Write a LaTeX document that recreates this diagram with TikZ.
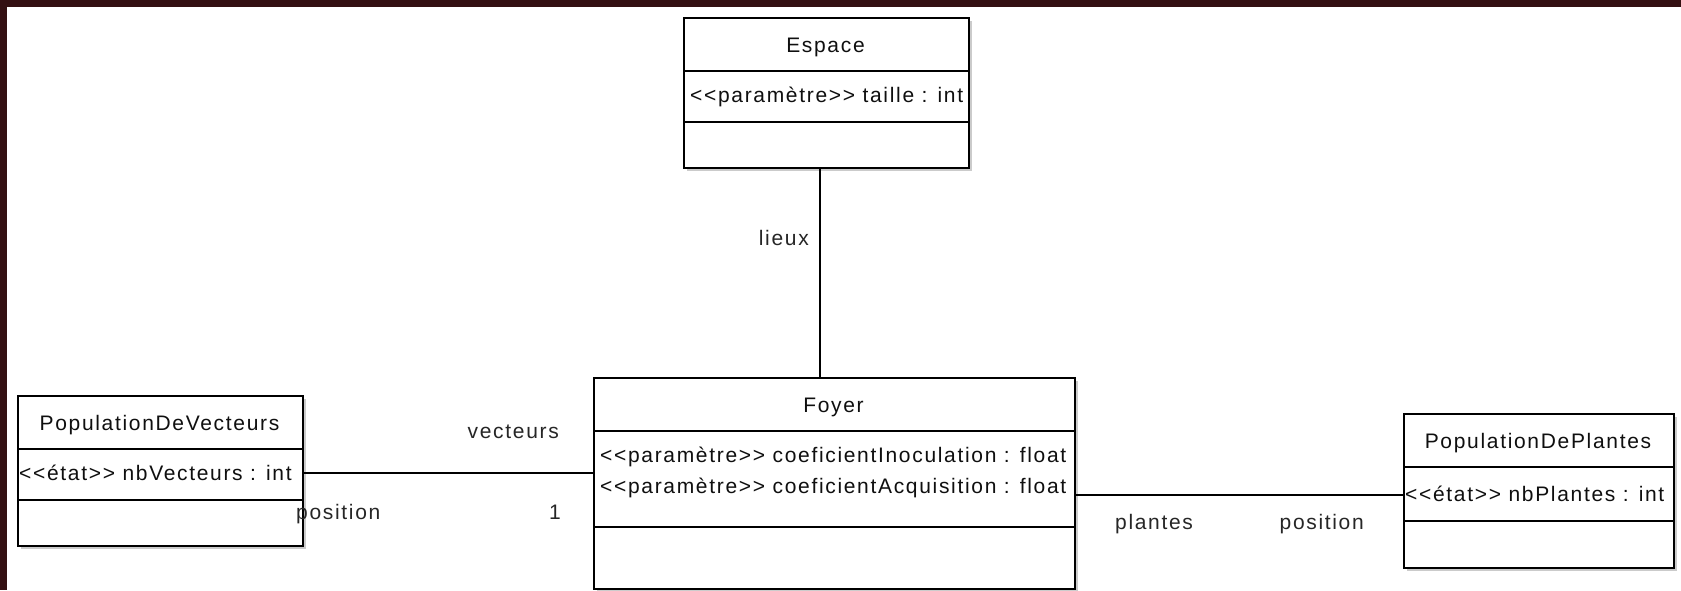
\documentclass[tikz,border=0pt]{standalone}
\usepackage{fontspec}
\setmainfont{Liberation Sans}[LetterSpace=8,Ligatures=TeXOff]
\usetikzlibrary{shadows}
\definecolor{bandc}{RGB}{52,16,18}
\definecolor{inkc}{RGB}{15,15,15}
\tikzset{
  classbox/.style={draw=black,line width=1.8pt,fill=white,rectangle,inner sep=0pt,
    anchor=north west,
    drop shadow={shadow xshift=3pt,shadow yshift=-3pt,fill=black!40,opacity=0.5}},
  divider/.style={draw=black,line width=1.6pt},
  txt/.style={inner sep=0pt,font=\fontsize{21}{25}\selectfont,text=inkc},
  ttl/.style={txt,anchor=base},
  attr/.style={txt,anchor=west},
  lbl/.style={inner sep=0pt,font=\fontsize{21}{25}\selectfont,text=black!85},
  assoc/.style={draw=black,line width=1.5pt}
}
\begin{document}
\begin{tikzpicture}[x=1pt,y=-1pt]
\useasboundingbox (0,0) rectangle (1681,590);
\fill[white] (0,0) rectangle (1681,590);
\fill[bandc] (0,0) rectangle (1681,7);
\fill[bandc] (0,0) rectangle (7,590);

% Espace
\node[classbox,minimum width=285pt,minimum height=150pt] (esp) at (683,17) {};
\draw[divider] (683,71) -- (968,71);
\draw[divider] (683,122) -- (968,122);
\node[ttl] (espT) at (825.5,52.5) {Espace};
\node[attr] (espA) at (690,96.5) {<<paramètre>> taille : int};

% Foyer
\node[classbox,minimum width=481pt,minimum height=211pt] (foy) at (593,377) {};
\draw[divider] (593,431) -- (1074,431);
\draw[divider] (593,527) -- (1074,527);
\node[ttl] (foyT) at (833.5,412.5) {Foyer};
\node[attr] (foyA1) at (600,456.5) {<<paramètre>> coeficientInoculation : float};
\node[attr] (foyA2) at (600,488) {<<paramètre>> coeficientAcquisition : float};

% PopulationDeVecteurs
\node[classbox,minimum width=285pt,minimum height=150pt] (pv) at (17,395) {};
\draw[divider] (17,449) -- (302,449);
\draw[divider] (17,500) -- (302,500);
\node[ttl] (pvT) at (159.5,430.5) {PopulationDeVecteurs};
\node[attr] (pvA) at (19,473) {<<état>> nbVecteurs : int};

% PopulationDePlantes
\node[classbox,minimum width=270pt,minimum height=154pt] (pp) at (1403,413) {};
\draw[divider] (1403,467) -- (1673,467);
\draw[divider] (1403,521) -- (1673,521);
\node[ttl] (ppT) at (1538,448) {PopulationDePlantes};
\node[attr] (ppA) at (1405,494) {<<état>> nbPlantes : int};

% associations
\coordinate (espBot) at (820,167);
\coordinate (foyTop) at (820,377);
\draw[assoc] (espBot) -- (foyTop);
\coordinate (pvR) at (302,473);
\coordinate (foyL) at (593,473);
\draw[assoc] (pvR) -- (foyL);
\coordinate (foyR) at (1074,495);
\coordinate (ppL) at (1403,495);
\draw[assoc] (foyR) -- (ppL);

% labels
\node[lbl,anchor=east] (lieux) at (809,238) {lieux};
\node[lbl,anchor=east] (vect) at (559,432) {vecteurs};
\node[lbl,anchor=west] (posL) at (296,514.5) {position};
\node[lbl,anchor=east] (one) at (561,512.5) {1};
\node[lbl,anchor=west] (plan) at (1115,524) {plantes};
\node[lbl,anchor=east] (posR) at (1364,524) {position};
\end{tikzpicture}
\end{document}
